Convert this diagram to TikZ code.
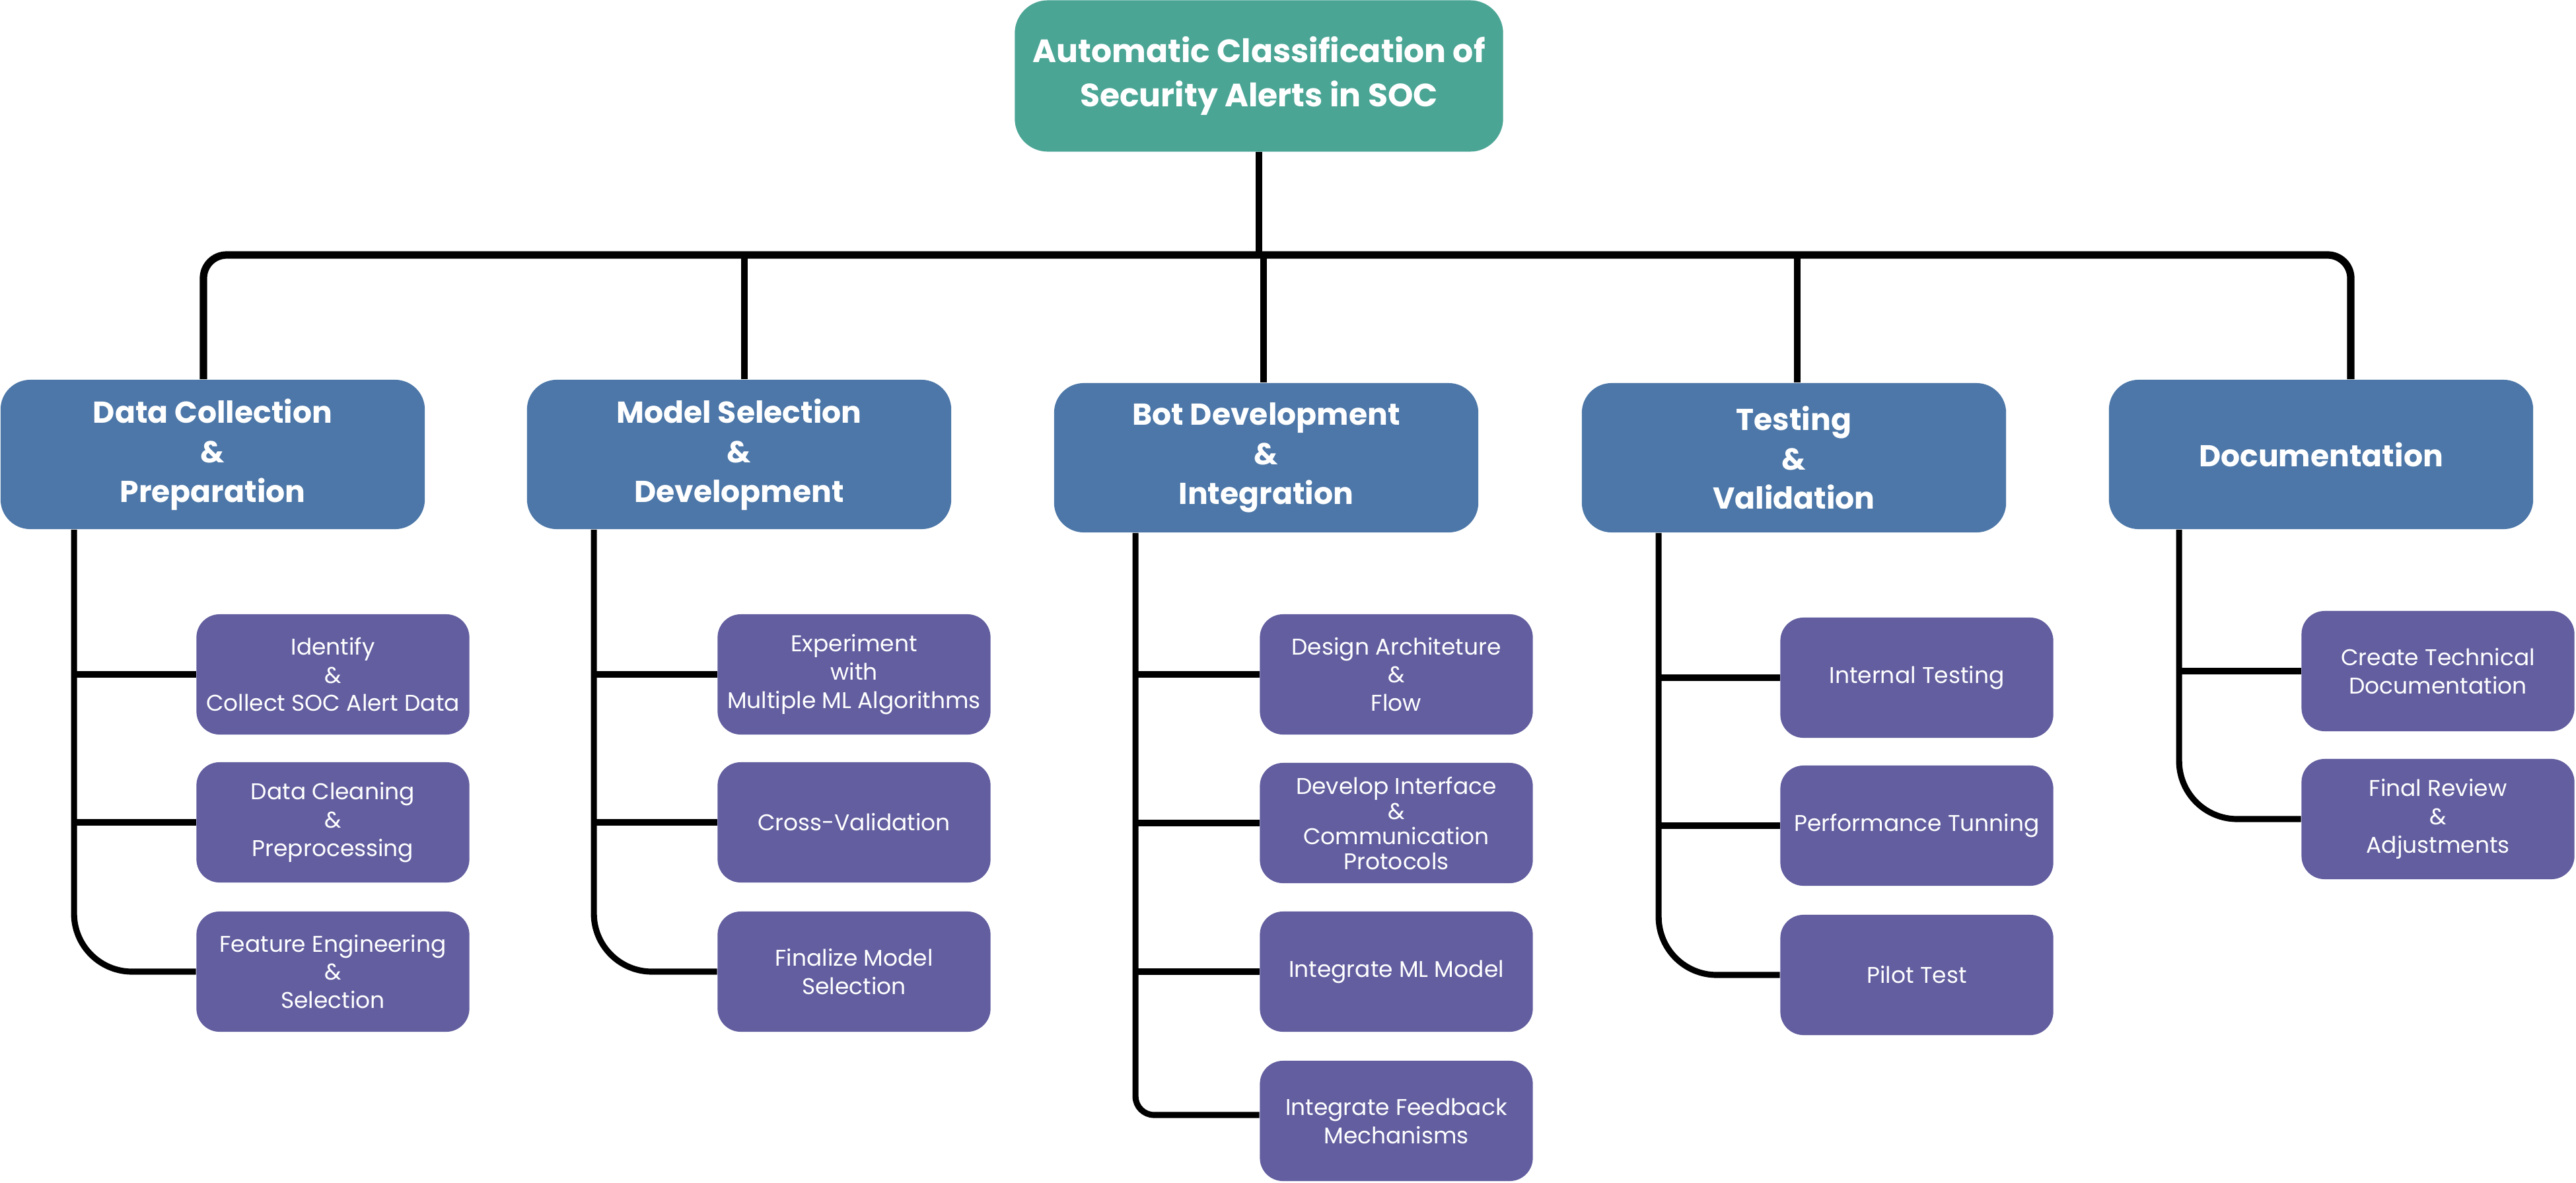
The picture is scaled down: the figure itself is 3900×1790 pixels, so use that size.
\documentclass[tikz,border=0pt]{standalone}
\usepackage{fontspec}
\setmainfont{Poppins}
\usetikzlibrary{calc}
\definecolor{rootc}{HTML}{4BA595}
\definecolor{headc}{HTML}{4C77A8}
\definecolor{kidc}{HTML}{625E9F}
\tikzset{
  rootbox/.style={fill=rootc, rounded corners=0.5cm, minimum width=7.39cm, minimum height=2.29cm,
    text=white, align=center, font=\fontsize{13.9}{19}\selectfont\bfseries, inner sep=0pt},
  headbox/.style={fill=headc, rounded corners=0.45cm, minimum width=6.42cm, minimum height=2.26cm,
    text=white, align=center, font=\fontsize{13}{17}\selectfont\bfseries, inner sep=0pt},
  kidbox/.style={fill=kidc, rounded corners=0.35cm, minimum width=4.13cm, minimum height=1.82cm,
    text=white, align=center, font=\fontsize{9.8}{12.2}\selectfont, inner sep=0pt},
  conn/.style={draw=black, line width=2.6pt},
  mainbar/.style={draw=black, line width=3.2pt},
}
\begin{document}
\begin{tikzpicture}[x=0.01cm,y=-0.01cm]
\useasboundingbox (0,0) rectangle (3900,1790);
% root
\node[rootbox] (root) at (1906,115) {Automatic Classification of\\Security Alerts in SOC};
% headings
\node[headbox] (b1) at (322,688) {Data Collection\\\&\\Preparation};
\node[headbox] (b2) at (1119,688) {Model Selection\\\&\\Development};
\node[headbox] (b3) at (1917,693) {Bot Development\\\&\\Integration};
\node[headbox] (b4) at (2716,693) {Testing\\\&\\Validation};
\node[headbox] (b5) at (3514,688) {Documentation};
% children col 1
\node[kidbox] (c11) at (504,1021) {Identify\\\&\\Collect SOC Alert Data};
\node[kidbox] (c12) at (504,1245) {Data Cleaning\\\&\\Preprocessing};
\node[kidbox] (c13) at (504,1471) {Feature Engineering\\\&\\Selection};
% col 2
\node[kidbox] (c21) at (1293,1021) {Experiment\\with\\Multiple ML Algorithms};
\node[kidbox] (c22) at (1293,1245) {Cross-Validation};
\node[kidbox] (c23) at (1293,1471) {Finalize Model\\Selection};
% col 3
\node[kidbox] (c31) at (2114,1021) {Design Architeture\\\&\\Flow};
\node[kidbox, font=\fontsize{9.8}{10.8}\selectfont] (c32) at (2114,1246) {Develop Interface\\\&\\Communication\\Protocols};
\node[kidbox] (c33) at (2114,1471) {Integrate ML Model};
\node[kidbox] (c34) at (2114,1697) {Integrate Feedback\\Mechanisms};
% col 4
\node[kidbox] (c41) at (2902,1026) {Internal Testing};
\node[kidbox] (c42) at (2902,1250) {Performance Tunning};
\node[kidbox] (c43) at (2902,1476) {Pilot Test};
% col 5
\node[kidbox] (c51) at (3691,1016) {Create Technical\\Documentation};
\node[kidbox] (c52) at (3691,1240) {Final Review\\\&\\Adjustments};
% main bar
\coordinate (bar) at (0,386);
\coordinate (d1) at ($(b1.north)+(-14,0)$);
\coordinate (d5) at ($(b5.north)+(45,0)$);
\draw[mainbar, rounded corners=10] (d1) |- (bar -| d5) -- (d5);
\draw[conn] (root.south) -- (root.south |- bar);
\coordinate (d2) at ($(b2.north)+(8,0)$);
\coordinate (d3) at ($(b3.north)+(-4,0)$);
\coordinate (d4) at ($(b4.north)+(5,0)$);
\draw[conn] (d2) -- (d2 |- bar);
\draw[conn] (d3) -- (d3 |- bar);
\draw[conn] (d4) -- (d4 |- bar);
% branches
\coordinate (v1) at ($(b1.south west)+(112,0)$);
\coordinate (v2) at ($(b2.south west)+(102,0)$);
\coordinate (v3) at ($(b3.south west)+(124,0)$);
\coordinate (v4) at ($(b4.south west)+(117,0)$);
\coordinate (v5) at ($(b5.south west)+(107,0)$);
\draw[conn, rounded corners=25] (v1) |- (c13.west);
\draw[conn] (v1 |- c11.west) -- (c11.west);
\draw[conn] (v1 |- c12.west) -- (c12.west);
\draw[conn, rounded corners=25] (v2) |- (c23.west);
\draw[conn] (v2 |- c21.west) -- (c21.west);
\draw[conn] (v2 |- c22.west) -- (c22.west);
\draw[conn, rounded corners=8] (v3) |- ($(c34.west)+(0,-9)$);
\draw[conn] (v3 |- c31.west) -- (c31.west);
\draw[conn] (v3 |- c32.west) -- (c32.west);
\draw[conn] (v3 |- c33.west) -- (c33.west);
\draw[conn, rounded corners=25] (v4) |- (c43.west);
\draw[conn] (v4 |- c41.west) -- (c41.west);
\draw[conn] (v4 |- c42.west) -- (c42.west);
\draw[conn, rounded corners=25] (v5) |- (c52.west);
\draw[conn] (v5 |- c51.west) -- (c51.west);
\end{tikzpicture}
\end{document}
